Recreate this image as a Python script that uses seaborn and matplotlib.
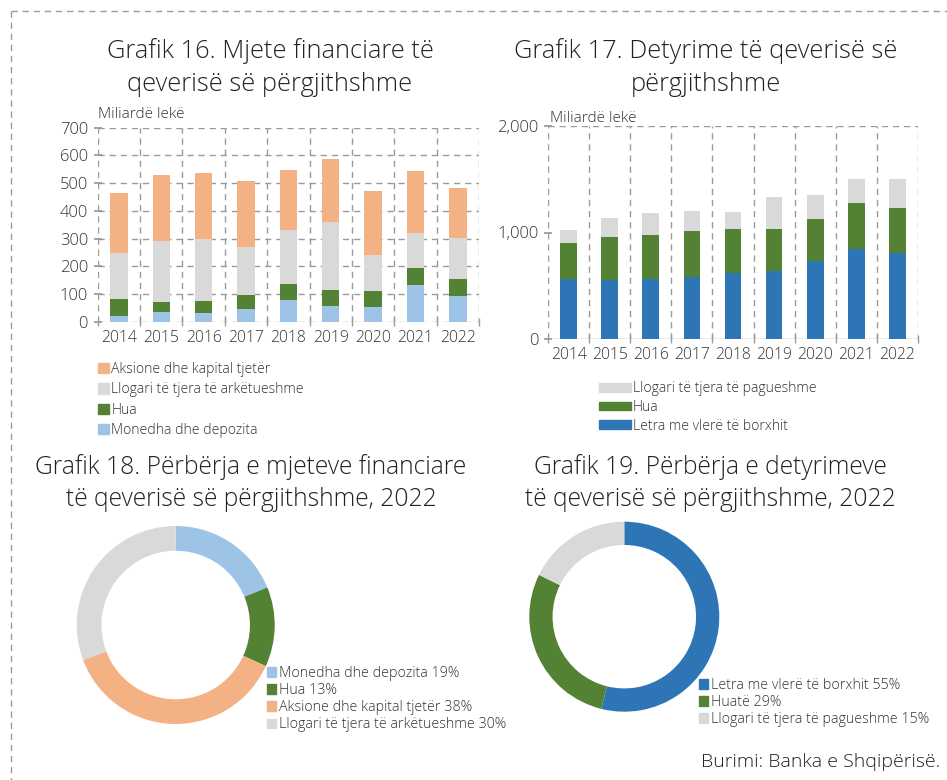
import matplotlib
matplotlib.use("Agg")
import matplotlib.pyplot as plt
import seaborn as sns
import numpy as np
import pandas as pd
from matplotlib.patches import Patch
from matplotlib.lines import Line2D

# ---------------- data ----------------
years = ["2014", "2015", "2016", "2017", "2018", "2019", "2020", "2021", "2022"]

# Grafik 16 (asset components, billion lek)
monedha = [22, 36, 32, 47, 77, 57, 53, 132, 91]
hua_a = [60, 35, 43, 49, 58, 57, 58, 62, 63]
llogari_ark = [166, 220, 223, 173, 197, 246, 131, 126, 149]
aksione = [215, 237, 240, 237, 216, 226, 229, 224, 181]

# Grafik 17 (liabilities, billion lek)
letra = [563, 551, 560, 579, 623, 635, 729, 842, 808]
hua_d = [342, 410, 420, 432, 407, 401, 401, 432, 425]
llogari_pag = [122, 178, 203, 191, 159, 297, 219, 228, 266]

# donut legends
labels18 = ["Monedha dhe depozita 19%", "Hua 13%",
            "Aksione dhe kapital tjetër 38%", "Llogari të tjera të arkëtueshme 30%"]
labels19 = ["Letra me vlerë të borxhit 55%", "Huatë 29%",
            "Llogari të tjera të pagueshme 15%"]

# ---------------- style ----------------
C_OR = "#F4B183"
C_GR = "#D9D9D9"
C_GN = "#548235"
C_LB = "#9DC3E6"
C_DB = "#2E75B6"
TXT = "#333333"
GRID = "#9a9a9a"

sns.set_theme(style="white")
plt.rcParams["font.family"] = ["Open Sans", "DejaVu Sans"]
plt.rcParams["font.weight"] = "light"
plt.rcParams["text.color"] = TXT

W, H = 947, 780
fig = plt.figure(figsize=(W / 100, H / 100), dpi=100)

def fx(px):
    return px / W

def fy(py):
    return 1 - py / H

DASH = (0, (4.5, 3.5))
LPROP = {"weight": "light", "size": 10.1}
LPROP2 = {"weight": "light", "size": 10.3}

def stacked(ax, layers, colors):
    cum = np.zeros(len(years))
    cums = []
    for v in layers:
        cum = cum + np.array(v)
        cums.append(cum.copy())
    for c, col in reversed(list(zip(cums, colors))):
        df = pd.DataFrame({"year": years, "val": c})
        sns.barplot(data=df, x="year", y="val", color=col, width=0.41,
                    saturation=1, linewidth=0, ax=ax, zorder=3)

def style_axis(ax, ymax, yticks, fmt, hgrid):
    ax.set_xlim(-0.5, len(years) - 0.5)
    ax.set_ylim(0, ymax)
    ax.set_xlabel("")
    ax.set_ylabel("")
    for s in ax.spines.values():
        s.set_visible(False)
    for b in np.arange(-0.5, len(years), 1.0):
        ax.axvline(b, color=GRID, lw=1, ls=DASH, zorder=1)
    for t in hgrid:
        ax.axhline(t, color=GRID, lw=1, ls=DASH, zorder=1)
    ax.set_yticks(yticks)
    ax.set_yticklabels([fmt(t) for t in yticks])
    ax.tick_params(axis="y", which="major", direction="inout", length=6,
                   color=GRID, labelsize=12, labelcolor=TXT, left=True, pad=4)
    ax.tick_params(axis="x", which="major", length=0, labelsize=11.3,
                   labelcolor=TXT, pad=6)
    ax.set_xticks(np.arange(-0.5, len(years), 1.0), minor=True)
    ax.tick_params(axis="x", which="minor", direction="inout", length=6,
                   color=GRID, bottom=True)
    for lab in ax.get_xticklabels() + ax.get_yticklabels():
        lab.set_fontweight("light")

# ---------------- Grafik 16 ----------------
ax1 = fig.add_axes([fx(97.7), fy(321.7), fx(479 - 97.7), (321.7 - 127.7) / H])
stacked(ax1, [monedha, hua_a, llogari_ark, aksione], [C_LB, C_GN, C_GR, C_OR])
style_axis(ax1, 700, list(range(0, 701, 100)), lambda t: f"{t}",
           list(range(0, 701, 100)))
ax1.text(0.0, 1.03, "Miliardë lekë", transform=ax1.transAxes, fontsize=11,
         color=TXT, ha="left", va="bottom")

# ---------------- Grafik 17 ----------------
ax2 = fig.add_axes([fx(548.3), fy(339), fx(917.7 - 548.3), (339 - 126) / H])
stacked(ax2, [letra, hua_d, llogari_pag], [C_DB, C_GN, C_GR])
style_axis(ax2, 2000, [0, 1000, 2000], lambda t: f"{t:,}", [2000])
ax2.axhline(0, color=GRID, lw=1, zorder=2)
ax2.text(0.005, 1.0, "Miliardë lekë", transform=ax2.transAxes, fontsize=11,
         color=TXT, ha="left", va="bottom")

# ---------------- titles ----------------
tkw = dict(color="#222222", ha="center", va="center", fontweight="light")
fig.text(fx(270), fy(67.5), "Grafik 16. Mjete financiare të\nqeverisë së përgjithshme",
         fontsize=18.3, linespacing=1.45, **tkw)
fig.text(fx(706), fy(67.5), "Grafik 17. Detyrime të qeverisë së\npërgjithshme",
         fontsize=18.3, linespacing=1.45, **tkw)
fig.text(fx(251), fy(483), "Grafik 18. Përbërja e mjeteve financiare\ntë qeverisë së përgjithshme, 2022",
         fontsize=17.7, linespacing=1.35, **tkw)
fig.text(fx(710), fy(483), "Grafik 19. Përbërja e detyrimeve\ntë qeverisë së përgjithshme, 2022",
         fontsize=17.7, linespacing=1.35, **tkw)

# ---------------- legends for bar charts ----------------
h16 = [Patch(color=C_OR), Patch(color=C_GR), Patch(color=C_GN), Patch(color=C_LB)]
l16 = ["Aksione dhe kapital tjetër", "Llogari të tjera të arkëtueshme",
       "Hua", "Monedha dhe depozita"]
fig.legend(h16, l16, loc="upper left", bbox_to_anchor=(fx(98), fy(362)),
           handlelength=0.75, handleheight=0.75, handletextpad=0.2,
           labelspacing=0.38, frameon=False, borderpad=0, borderaxespad=0,
           labelcolor=TXT, prop=LPROP)

h17 = [Patch(color=C_GR), Patch(color=C_GN), Patch(color=C_DB)]
l17 = ["Llogari të tjera të pagueshme", "Hua", "Letra me vlerë të borxhit"]
fig.legend(h17, l17, loc="upper left", bbox_to_anchor=(fx(599), fy(381)),
           handlelength=2.3, handleheight=0.6, handletextpad=0.1,
           labelspacing=0.28, frameon=False, borderpad=0, borderaxespad=0,
           labelcolor=TXT, prop=LPROP)

# ---------------- Grafik 18 donut ----------------
ax3 = fig.add_axes([fx(175.7 - 99), fy(625 + 99), fx(198), 198 / H])
v18 = [monedha[-1], hua_a[-1], aksione[-1], llogari_ark[-1]]
ax3.pie(v18, colors=[C_LB, C_GN, C_OR, C_GR], startangle=90, counterclock=False,
        radius=1, wedgeprops=dict(width=0.25, linewidth=0))
ax3.set_xlim(-1, 1)
ax3.set_ylim(-1, 1)
fig.legend([Patch(color=c) for c in [C_LB, C_GN, C_OR, C_GR]], labels18,
           loc="upper left", bbox_to_anchor=(fx(267), fy(666)),
           handlelength=0.65, handleheight=0.65, handletextpad=0.22,
           labelspacing=0.15, frameon=False, borderpad=0, borderaxespad=0,
           labelcolor=TXT, prop=LPROP2)

# ---------------- Grafik 19 donut ----------------
ax4 = fig.add_axes([fx(624.3 - 95), fy(616.7 + 95), fx(190), 190 / H])
v19 = [letra[-1], hua_d[-1], llogari_pag[-1]]
ax4.pie(v19, colors=[C_DB, C_GN, C_GR], startangle=90, counterclock=False,
        radius=1, wedgeprops=dict(width=0.245, linewidth=0))
ax4.set_xlim(-1, 1)
ax4.set_ylim(-1, 1)
fig.legend([Patch(color=c) for c in [C_DB, C_GN, C_GR]], labels19,
           loc="upper left", bbox_to_anchor=(fx(699), fy(678)),
           handlelength=0.65, handleheight=0.65, handletextpad=0.22,
           labelspacing=0.15, frameon=False, borderpad=0, borderaxespad=0,
           labelcolor=TXT, prop=LPROP2)

# ---------------- source + frame ----------------
fig.text(fx(940), fy(762), "Burimi: Banka e Shqipërisë.", fontsize=14,
         color="#222222", ha="right", va="center", fontweight="light")
fig.add_artist(Line2D([fx(11), 1], [fy(11), fy(11)], color=GRID, lw=1,
                      ls=DASH, transform=fig.transFigure))
fig.add_artist(Line2D([fx(11), fx(11)], [fy(11), 0], color=GRID, lw=1,
                      ls=DASH, transform=fig.transFigure))

fig.savefig("out.png", dpi=100)
